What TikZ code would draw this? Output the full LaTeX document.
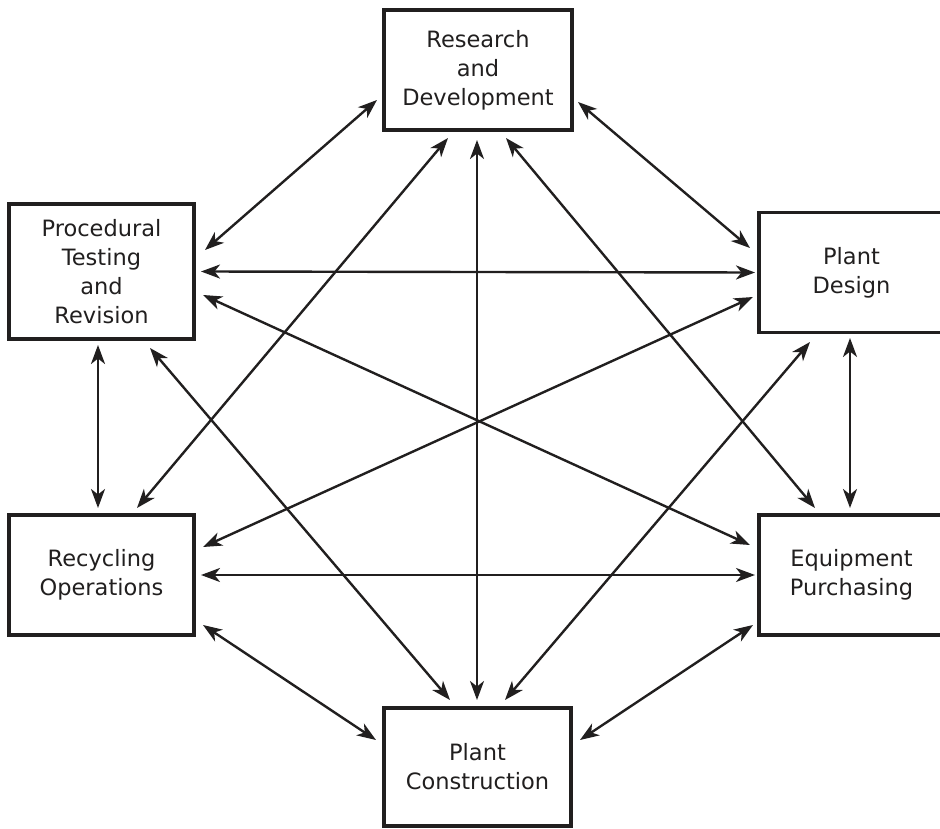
\documentclass[tikz,border=0pt]{standalone}
\usepackage{fontspec}
\setmainfont{DejaVu Sans}
\usetikzlibrary{arrows.meta}
\definecolor{ink}{rgb}{0.13,0.12,0.12}
\begin{document}
\begin{tikzpicture}[x=1pt,y=-1pt,
  unit/.style={draw=ink, line width=3.8pt, rectangle, inner sep=0pt, outer sep=0pt,
    text=ink, align=center, font=\fontsize{22.5}{29}\selectfont},
  link/.style={draw=ink, line width=2.4pt,
    {Stealth[length=19pt,width=14pt,inset=5.5pt]}-{Stealth[length=19pt,width=14pt,inset=5.5pt]}}]
\useasboundingbox (0,0) rectangle (940,829);

% departments
\node[unit, minimum width=188pt, minimum height=120pt] (R) at (478,70) {Research\\and\\Development};
\node[unit, minimum width=185pt, minimum height=135pt] (P) at (101.5,271.5) {Procedural\\Testing\\and\\Revision};
\node[unit, minimum width=185pt, minimum height=120pt] (D) at (851.5,272.5) {Plant\\Design};
\node[unit, minimum width=185pt, minimum height=120pt] (Y) at (101.5,575) {Recycling\\Operations};
\node[unit, minimum width=185pt, minimum height=120pt] (E) at (851.5,575) {Equipment\\Purchasing};
\node[unit, minimum width=187pt, minimum height=118pt] (C) at (477.5,767) {Plant\\Construction};

% every pair of departments exchanges information
\draw[link] ([shift={(-7,30)}]R.west) -- ([shift={(11,-21.5)}]P.east);
\draw[link] ([shift={(6,32)}]R.east) -- ([shift={(-9,-24.5)}]D.west);
\draw[link] ([shift={(7,0)}]P.east) -- ([shift={(-4,0)}]D.west);
\draw[link] ([shift={(-1,10)}]R.south) -- ([shift={(-0.5,-8)}]C.north);
\draw[link] ([shift={(-30,8)}]R.south) -- ([shift={(35.5,-7)}]Y.north);
\draw[link] ([shift={(28,8)}]R.south) -- ([shift={(-36.5,-7)}]E.north);
\draw[link] ([shift={(9,23.5)}]P.east) -- ([shift={(-9,-30)}]E.west);
\draw[link] ([shift={(-6,24.5)}]D.west) -- ([shift={(9,-28)}]Y.east);
\draw[link] ([shift={(-3.5,6)}]P.south) -- ([shift={(-3.5,-7)}]Y.north);
\draw[link] ([shift={(-1.5,5.5)}]D.south) -- ([shift={(-1.5,-7)}]E.north);
\draw[link] ([shift={(48.5,9)}]P.south) -- ([shift={(-27.5,-8)}]C.north);
\draw[link] ([shift={(-41.5,9.5)}]D.south) -- ([shift={(27.5,-8)}]C.north);
\draw[link] ([shift={(7,0)}]Y.east) -- ([shift={(-4,0)}]E.west);
\draw[link] ([shift={(9,50)}]Y.east) -- ([shift={(-8,-27)}]C.west);
\draw[link] ([shift={(-6,50)}]E.west) -- ([shift={(9,-27)}]C.east);
\end{tikzpicture}
\end{document}
